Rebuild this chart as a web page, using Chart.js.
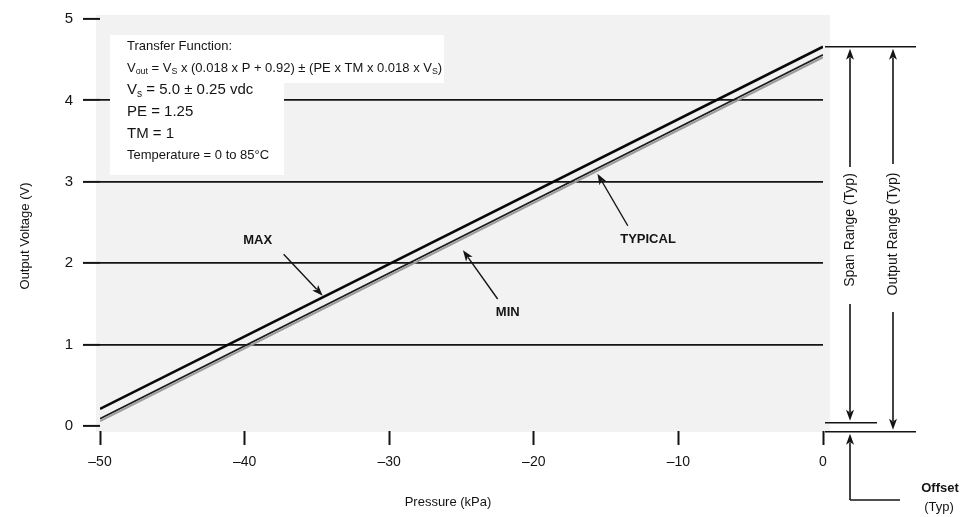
<!DOCTYPE html>
<html lang="en">
<head>
  <meta charset="UTF-8">
  <title>Output Voltage vs Pressure</title>
  <script src="https://cdn.jsdelivr.net/npm/chart.js"></script>
  <style>
    body {
      margin: 0;
      padding: 0;
      background-color: #fff;
    }
  </style>
</head>
<body>
  <canvas id="grafico" width="964" height="517"></canvas>

  <script>
    // values
    var pressure = [-50, 0];
    var voltMax = [0.21, 4.66];
    var voltTypical = [0.09, 4.56];
    var voltMin = [0.06, 4.53];
    var ticksX = [-50, -40, -30, -20, -10, 0];
    var ticksY = [0, 1, 2, 3, 4, 5];

    var FONT = "'Liberation Sans', Arial, sans-serif";
    var INK = '#141414';

    function toPoints(values) {
      return pressure.map(function (p, i) { return { x: p, y: values[i] }; });
    }

    function arrow(c, x1, y1, x2, y2) {
      var ang = Math.atan2(y2 - y1, x2 - x1);
      var len = 11, half = 4;
      c.beginPath();
      c.moveTo(x1, y1);
      c.lineTo(x2 - Math.cos(ang) * len * 0.8, y2 - Math.sin(ang) * len * 0.8);
      c.stroke();
      c.beginPath();
      c.moveTo(x2, y2);
      c.lineTo(x2 - Math.cos(ang) * len + Math.sin(ang) * half, y2 - Math.sin(ang) * len - Math.cos(ang) * half);
      c.lineTo(x2 - Math.cos(ang) * len * 0.75, y2 - Math.sin(ang) * len * 0.75);
      c.lineTo(x2 - Math.cos(ang) * len - Math.sin(ang) * half, y2 - Math.sin(ang) * len + Math.cos(ang) * half);
      c.closePath();
      c.fill();
    }

    function line(c, x1, y1, x2, y2) {
      c.beginPath();
      c.moveTo(x1, y1);
      c.lineTo(x2, y2);
      c.stroke();
    }

    // text with subscripts: parts = [[text, isSub], ...]
    function richText(c, x, y, parts, size) {
      parts.forEach(function (p) {
        var s = p[1] ? size * 0.68 : size;
        c.font = s + 'px ' + FONT;
        c.fillText(p[0], x, p[1] ? y + size * 0.3 : y);
        x += c.measureText(p[0]).width;
      });
    }

    function vText(c, txt, x, y, size) {
      c.save();
      c.translate(x, y);
      c.rotate(-Math.PI / 2);
      c.font = size + 'px ' + FONT;
      c.textAlign = 'center';
      c.textBaseline = 'middle';
      c.fillText(txt, 0, 0);
      c.restore();
    }

    var decorations = {
      id: 'decorations',
      beforeDraw: function (chart) {
        var c = chart.ctx, a = chart.chartArea;
        c.save();
        c.fillStyle = '#ffffff';
        c.fillRect(0, 0, chart.width, chart.height);
        c.fillStyle = '#f2f2f2';
        c.fillRect(a.left - 4, a.top - 4, a.right - a.left + 11, a.bottom - a.top + 10);
        c.restore();
      },
      beforeDatasetsDraw: function (chart) {
        var c = chart.ctx, a = chart.chartArea;
        c.save();
        c.fillStyle = '#ffffff';
        c.fillRect(a.left + 10, a.top + 16, 174, 140);
        c.fillRect(a.left + 10, a.top + 16, 334, 48);
        c.restore();
      },
      afterDraw: function (chart) {
        var c = chart.ctx, a = chart.chartArea;
        var xs = chart.scales.x, ys = chart.scales.y;
        var px = function (v) { return xs.getPixelForValue(v); };
        var py = function (v) { return ys.getPixelForValue(v); };
        c.save();
        c.fillStyle = INK;
        c.strokeStyle = INK;
        c.lineWidth = 1.6;
        c.textBaseline = 'middle';

        // transfer function box
        var tx = a.left + 27;
        c.font = '13px ' + FONT;
        c.fillText('Transfer Function:', tx, 46);
        richText(c, tx, 68, [['V', false], ['out', true], [' = V', false], ['S', true],
          [' x (0.018 x P + 0.92) \u00B1 (PE x TM x 0.018 x V', false], ['S', true], [')', false]], 13);
        richText(c, tx, 90, [['V', false], ['s', true], [' = 5.0 \u00B1 0.25 vdc', false]], 15);
        c.font = '15px ' + FONT;
        c.fillText('PE = 1.25', tx, 112);
        c.fillText('TM = 1', tx, 134);
        c.font = '13px ' + FONT;
        c.fillText('Temperature = 0 to 85\u00B0C', tx, 155);

        // curve labels
        c.textAlign = 'center';
        c.font = 'bold 13px ' + FONT;
        c.fillText('MAX', px(-39.1), py(2.28));
        c.fillText('MIN', px(-21.8), py(1.39));
        c.fillText('TYPICAL', px(-12.1), py(2.29));
        c.lineWidth = 1.4;
        arrow(c, px(-37.3), py(2.11), px(-34.6), py(1.60));
        arrow(c, px(-22.5), py(1.56), px(-24.9), py(2.16));
        arrow(c, px(-13.5), py(2.46), px(-15.6), py(3.10));

        // span / output range / offset dimension marks
        var r = a.right;
        var yTop = py(voltMax[1]);
        var ySpan = py(0.04), yOff = py(-0.07);
        var xSpan = r + 27, xOut = r + 70;
        c.lineWidth = 1.6;
        line(c, r + 2, yTop, r + 93, yTop);
        line(c, r + 2, ySpan, r + 54, ySpan);
        line(c, r + 2, yOff, r + 93, yOff);
        arrow(c, xSpan, 167, xSpan, yTop + 2);
        arrow(c, xSpan, 304, xSpan, ySpan - 2);
        arrow(c, xOut, 164, xOut, yTop + 2);
        arrow(c, xOut, 312, xOut, yOff - 2);
        arrow(c, xSpan, 500, xSpan, yOff + 2);
        line(c, xSpan, 500, xSpan + 50, 500);
        c.fillStyle = INK;
        vText(c, 'Span Range (Typ)', xSpan, 230, 14);
        vText(c, 'Output Range (Typ)', xOut, 234, 14);
        c.font = 'bold 13px ' + FONT;
        c.textAlign = 'center';
        c.fillText('Offset', r + 117, 488);
        c.font = '13px ' + FONT;
        c.fillText('(Typ)', r + 116, 507);

        // axis titles
        vText(c, 'Output Voltage (V)', 25, 236, 13);
        c.font = '13px ' + FONT;
        c.textAlign = 'center';
        c.fillText('Pressure (kPa)', 448, 502);
        c.restore();
      }
    };

    var ctx = document.getElementById('grafico').getContext('2d');
    var chart = new Chart(ctx, {
      type: 'scatter',
      data: {
        datasets: [{
          label: 'MIN',
          data: toPoints(voltMin),
          showLine: true,
          borderColor: '#9c9c9c',
          borderWidth: 2,
          pointRadius: 0
        }, {
          label: 'TYPICAL',
          data: toPoints(voltTypical),
          showLine: true,
          borderColor: '#1c1c1c',
          borderWidth: 1.8,
          pointRadius: 0
        }, {
          label: 'MAX',
          data: toPoints(voltMax),
          showLine: true,
          borderColor: '#080808',
          borderWidth: 2.6,
          pointRadius: 0
        }]
      },
      options: {
        responsive: false,
        animation: false,
        devicePixelRatio: 1,
        layout: {
          padding: { top: 16, right: 141, left: 0, bottom: 0 }
        },
        plugins: {
          legend: { display: false },
          tooltip: { enabled: false }
        },
        scales: {
          x: {
            type: 'linear',
            min: -50,
            max: 0,
            afterFit: function (s) { s.height = 91; },
            afterBuildTicks: function (s) {
              s.ticks = ticksX.map(function (v) { return { value: v }; });
            },
            border: { display: false },
            grid: {
              drawOnChartArea: false,
              drawTicks: true,
              tickLength: 19,
              tickColor: INK,
              tickWidth: 2,
              tickBorderDash: [0, 5, 14, 60]
            },
            ticks: {
              padding: 9,
              color: INK,
              font: { family: FONT, size: 14 },
              callback: function (v) { return v < 0 ? '\u2013' + Math.abs(v) : String(v); }
            }
          },
          y: {
            min: 0,
            max: 5,
            afterFit: function (s) { s.width = 100; },
            afterBuildTicks: function (s) {
              s.ticks = ticksY.map(function (v) { return { value: v }; });
            },
            border: { display: false },
            grid: {
              lineWidth: 1.8,
              color: function (c) {
                return (c.tick && c.tick.value > 0 && c.tick.value < 5) ? INK : 'rgba(0,0,0,0)';
              },
              tickColor: INK,
              tickWidth: 2,
              tickLength: 17
            },
            ticks: {
              padding: 10,
              color: INK,
              font: { family: FONT, size: 15 }
            }
          }
        }
      },
      plugins: [decorations]
    });
  </script>
</body>
</html>
